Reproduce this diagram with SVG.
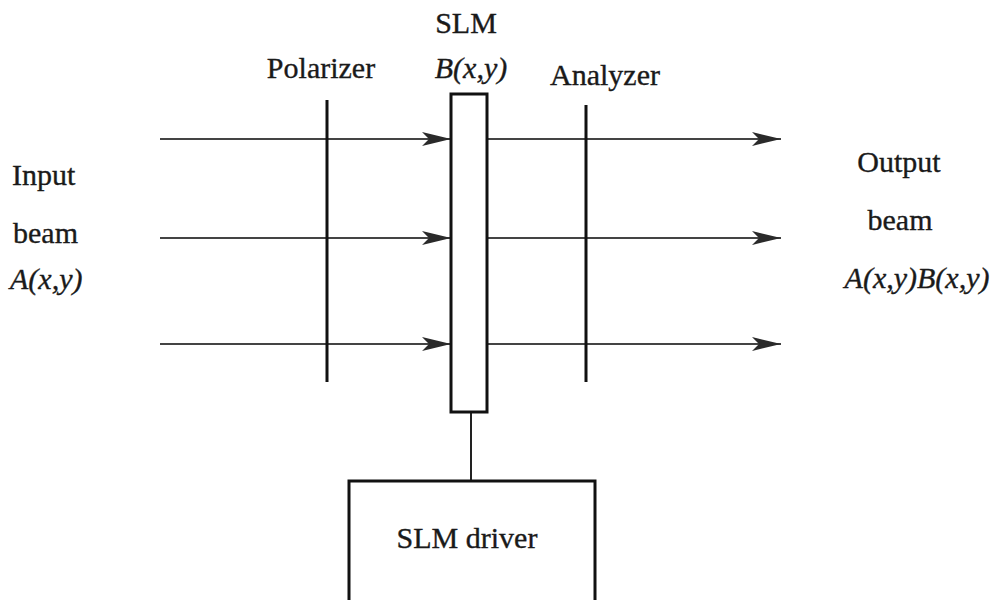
<svg xmlns="http://www.w3.org/2000/svg" width="995" height="600" viewBox="0 0 995 600">
  <defs>
    <style>
      text { font-family: "Liberation Serif", "Times New Roman", serif; font-size: 30px; fill: #1a1a1a; stroke: #1a1a1a; stroke-width: 0.35; }
      .it { font-style: italic; }
      .beam { stroke: #444; stroke-width: 2; fill: none; }
      .plate { stroke: #111; stroke-width: 3; fill: none; }
      .box { stroke: #111; stroke-width: 3; fill: #fff; }
    </style>
    <marker id="arr" markerUnits="userSpaceOnUse" markerWidth="32" markerHeight="16" refX="29" refY="8" orient="auto">
      <path d="M0,1 L29,8 L0,15 L7,8 Z" fill="#2a2a2a"/>
    </marker>
  </defs>

  <g id="connectors">
    <line class="beam" x1="160" y1="139" x2="451" y2="139" marker-end="url(#arr)"/>
    <line class="beam" x1="160" y1="238" x2="451" y2="238" marker-end="url(#arr)"/>
    <line class="beam" x1="160" y1="344" x2="451" y2="344" marker-end="url(#arr)"/>
    <line class="beam" x1="487" y1="139" x2="781" y2="139" marker-end="url(#arr)"/>
    <line class="beam" x1="487" y1="238" x2="781" y2="238" marker-end="url(#arr)"/>
    <line class="beam" x1="487" y1="344" x2="781" y2="344" marker-end="url(#arr)"/>
    <line x1="471" y1="412" x2="471" y2="480" stroke="#222" stroke-width="2"/>
  </g>

  <g id="polarizer">
    <line class="plate" x1="327" y1="100" x2="327" y2="382"/>
    <text x="321" y="78" text-anchor="middle">Polarizer</text>
  </g>

  <g id="analyzer">
    <line class="plate" x1="586" y1="105" x2="586" y2="382"/>
    <text x="605" y="85" text-anchor="middle">Analyzer</text>
  </g>

  <g id="slm">
    <rect class="box" x="451" y="94" width="36" height="318"/>
    <text x="466" y="33" text-anchor="middle">SLM</text>
    <text class="it" x="471" y="78" text-anchor="middle">B(x,y)</text>
  </g>

  <g id="slm-driver">
    <rect class="box" x="349" y="481" width="246" height="130"/>
    <text x="467" y="548" text-anchor="middle">SLM driver</text>
  </g>

  <g id="input-beam">
    <text x="12" y="185">Input</text>
    <text x="13" y="243">beam</text>
    <text class="it" x="10" y="289">A(x,y)</text>
  </g>

  <g id="output-beam">
    <text x="899" y="172" text-anchor="middle">Output</text>
    <text x="900" y="230" text-anchor="middle">beam</text>
    <text class="it" x="917" y="288" text-anchor="middle">A(x,y)B(x,y)</text>
  </g>
</svg>
